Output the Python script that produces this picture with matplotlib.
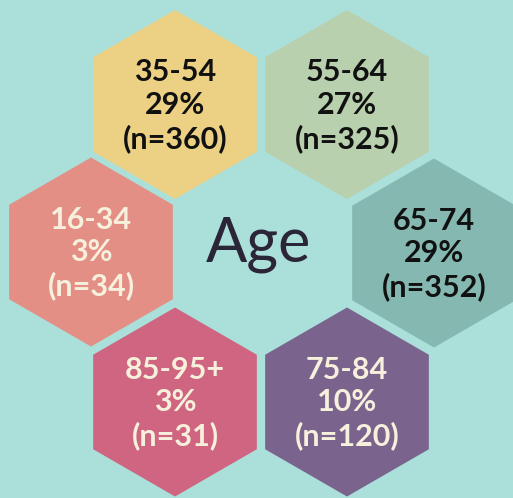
import matplotlib.pyplot as plt
from matplotlib.patches import RegularPolygon

# data
groups = ["35-54", "55-64", "16-34", "65-74", "85-95+", "75-84"]
percents = [29, 27, 3, 29, 3, 10]
counts = [360, 325, 34, 352, 31, 120]
colors = ["#ecd185", "#b8d0ae", "#e48f85", "#84b8b1", "#cf6580", "#7a638d"]
text_colors = ["#111111", "#111111", "#f6f0dc", "#111111", "#f6f0dc", "#f6f0dc"]

# hexagon centres in pixel coords of the picture
centres = [(175, 104.5), (347, 104.5), (91, 252), (434, 253), (175, 402), (347, 402)]
radius = 94.5
bg = "#aadfda"

fig = plt.figure(figsize=(5.13, 4.98), dpi=100, facecolor=bg)
ax = fig.add_axes([0, 0, 1, 1])
ax.set_facecolor(bg)
ax.set_xlim(0, 513)
ax.set_ylim(498, 0)
ax.set_aspect("equal")
ax.axis("off")

for i, g in enumerate(groups):
    cx, cy = centres[i]
    ax.add_patch(RegularPolygon((cx, cy), numVertices=6, radius=radius,
                                orientation=0, facecolor=colors[i], edgecolor="none"))
    label = "%s\n%d%%\n(n=%d)" % (g, percents[i], counts[i])
    ax.text(cx, cy + 1, label, ha="center", va="center", multialignment="center",
            fontsize=22, fontweight="bold", family="Lato", color=text_colors[i],
            linespacing=1.2)

ax.text(259, 244, "Age", ha="center", va="center", fontsize=44,
        family="Lato", color="#2b2538")

fig.savefig("out.png", dpi=100, facecolor=bg)
